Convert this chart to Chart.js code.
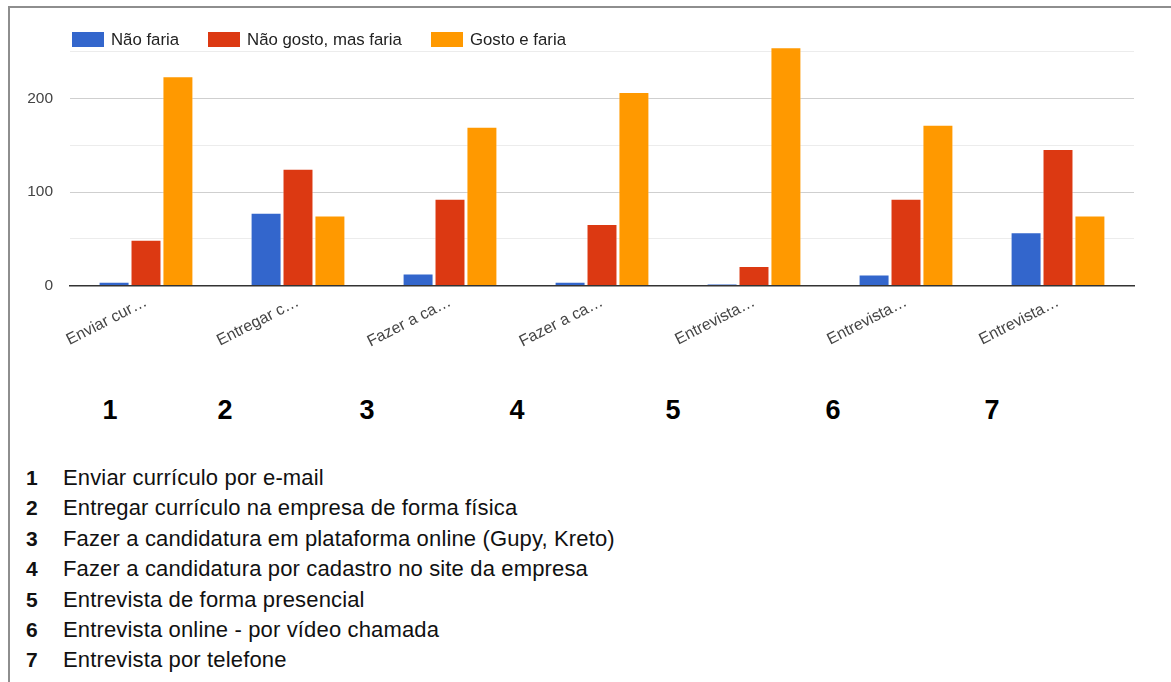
<!DOCTYPE html>
<html>
<head>
<meta charset="utf-8">
<script src="https://cdn.jsdelivr.net/npm/chart.js@4/dist/chart.umd.min.js"></script>
<style>
  html, body { margin: 0; padding: 0; background: #fff; }
  body { width: 1171px; height: 682px; position: relative; overflow: hidden;
         font-family: "Liberation Sans", Arial, sans-serif; }
  #frame { position: absolute; left: 8px; top: 6px; width: 1163px; height: 676px;
           border-top: 2px solid #8e8e8e; border-left: 2px solid #8e8e8e; box-sizing: border-box; }
  #chartBox { position: absolute; left: 0; top: 0; width: 1171px; height: 360px; }
  #legend { position: absolute; left: 72px; top: 32px; display: flex; align-items: center;
            font-size: 16.8px; color: #222; line-height: 15px; }
  .lg-item { display: flex; align-items: center; margin-right: 29px; }
  .lg-box { width: 32px; height: 15px; margin-right: 7px; }
  #numRow span { position: absolute; top: 395px; font-weight: bold; font-size: 27px; color: #000;
                 transform: translateX(-50%); line-height: 30px; }
  #keyList { position: absolute; left: 26px; top: 463px; font-size: 22px; color: #111;
             letter-spacing: 0.15px; }
  #keyList div { height: 30.4px; line-height: 30.4px; white-space: nowrap; }
  #keyList b { display: inline-block; width: 37px; font-size: 21px; letter-spacing: 0; }
</style>
</head>
<body>
<div id="frame"></div>
<div id="chartBox"><canvas id="chart" width="1171" height="360"></canvas></div>
<div id="legend"></div>
<div id="numRow"></div>
<div id="keyList"></div>
<script>
// Response options, in the order they are listed under the chart
const itemNames = [
  "Enviar currículo por e-mail",
  "Entregar currículo na empresa de forma física",
  "Fazer a candidatura em plataforma online (Gupy, Kreto)",
  "Fazer a candidatura por cadastro no site da empresa",
  "Entrevista de forma presencial",
  "Entrevista online - por vídeo chamada",
  "Entrevista por telefone"
];
const itemNumbers = ["1", "2", "3", "4", "5", "6", "7"];

// Answer counts per option
const naoFaria      = [4, 78, 13, 4, 2, 12, 57];
const naoGostoFaria = [49, 125, 93, 66, 21, 93, 146];
const gostoFaria    = [224, 75, 170, 207, 255, 172, 75];

const seriesNames = ["Não faria", "Não gosto, mas faria", "Gosto e faria"];

// Value axis
const yGridValues = [0, 50, 100, 150, 200, 250];
const yTickLabels = [0, 100, 200];

// Axis labels are shortened to ten characters
const shortLabels = itemNames.map(n => n.slice(0, 10) + "…");

const colors = ["#3366cc", "#dc3912", "#ff9900"];

Chart.defaults.font.family = "'Liberation Sans', Arial, sans-serif";

const chart = new Chart(document.getElementById("chart"), {
  type: "bar",
  data: {
    labels: itemNumbers,
    datasets: [naoFaria, naoGostoFaria, gostoFaria].map((vals, i) => ({
      label: seriesNames[i],
      data: vals,
      backgroundColor: colors[i],
      borderColor: "rgba(255,255,255,0.45)",
      borderWidth: 1,
      categoryPercentage: 0.63,
      barPercentage: 0.97
    }))
  },
  options: {
    responsive: false,
    animation: false,
    devicePixelRatio: 1,
    layout: { padding: { top: 42.5, right: 37, left: 0, bottom: 0 } },
    plugins: { legend: { display: false }, tooltip: { enabled: false }, title: { display: false } },
    scales: {
      x: {
        grid: { display: false, drawTicks: false },
        border: { display: true, color: "#333", width: 1.5 },
        ticks: {
          autoSkip: false, minRotation: 27, maxRotation: 27, padding: 7,
          color: "#444", font: { size: 16 },
          callback: (v, i) => shortLabels[i]
        },
        afterFit: s => { s.height = 74.4; }
      },
      y: {
        min: 0, max: 260,
        afterBuildTicks: s => { s.ticks = yGridValues.map(v => ({ value: v })); },
        afterFit: s => { s.width = 70; },
        border: { display: false },
        grid: {
          drawTicks: false, lineWidth: 1,
          color: ctx => ctx.tick.value === 0 ? "rgba(0,0,0,0)"
                      : (yTickLabels.includes(ctx.tick.value) ? "#cfcfcf" : "#ececec")
        },
        ticks: {
          padding: 17, color: "#444", font: { size: 15.5 },
          callback: v => yTickLabels.includes(v) ? String(v) : ""
        }
      }
    }
  }
});

// Legend built from the chart's datasets
const legend = document.getElementById("legend");
chart.data.datasets.forEach(ds => {
  const item = document.createElement("div");
  item.className = "lg-item";
  const box = document.createElement("div");
  box.className = "lg-box";
  box.style.background = ds.backgroundColor;
  const txt = document.createElement("span");
  txt.textContent = ds.label;
  item.appendChild(box); item.appendChild(txt);
  legend.appendChild(item);
});

// Row of option numbers under the chart
const numRowX = [110, 225, 367, 517, 673, 833, 992];
const numRow = document.getElementById("numRow");
itemNumbers.forEach((n, i) => {
  const s = document.createElement("span");
  s.textContent = n;
  s.style.left = numRowX[i] + "px";
  numRow.appendChild(s);
});

// Key: number and full option text
const keyList = document.getElementById("keyList");
itemNames.forEach((name, i) => {
  const row = document.createElement("div");
  const b = document.createElement("b");
  b.textContent = itemNumbers[i];
  row.appendChild(b);
  row.appendChild(document.createTextNode(name));
  keyList.appendChild(row);
});
</script>
</body>
</html>
